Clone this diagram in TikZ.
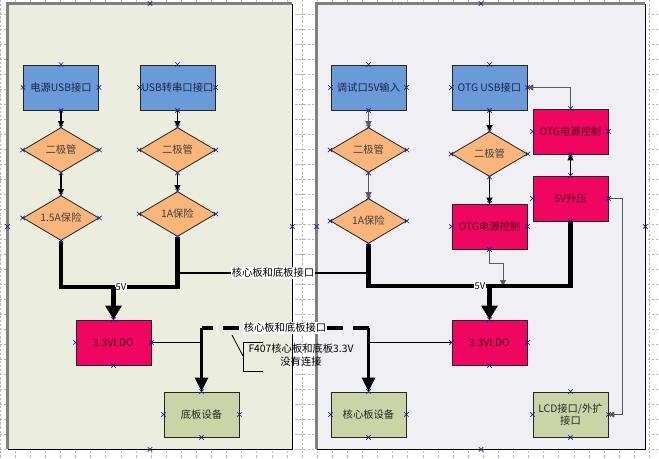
\documentclass[tikz,border=0pt]{standalone}
\usepackage{fontspec}
\setmainfont{Noto Sans CJK SC}
\usetikzlibrary{positioning,shapes.geometric,arrows.meta}
\definecolor{usbblue}{RGB}{106,155,216}
\definecolor{diodeorange}{RGB}{250,182,122}
\definecolor{ctrlpink}{RGB}{240,6,96}
\definecolor{devgreen}{RGB}{202,212,166}
\definecolor{leftbg}{RGB}{235,238,223}
\definecolor{rightbg}{RGB}{240,239,244}
\definecolor{pinktext}{RGB}{70,0,20}
\definecolor{bluetext}{RGB}{25,35,70}
\definecolor{wiregray}{RGB}{90,90,90}
\definecolor{gridgray}{RGB}{185,185,185}
\definecolor{markblue}{RGB}{30,30,150}

\begin{document}
\begin{tikzpicture}[
			x=0.03cm, y=-0.03cm,
			every node/.style={font=\fontsize{8.8}{10.5}\selectfont},
			>={Triangle[length=5pt,width=5pt]},
			panel/.style={draw=black, line width=0.6pt, minimum height=13.35cm},
			block/.style={draw=black!85, line width=0.7pt, minimum width=2.25cm, minimum height=1.35cm, inner sep=1pt},
			iface/.style={block, fill=usbblue, text=bluetext},
			ctrlbox/.style={block, fill=ctrlpink, text=pinktext},
			device/.style={block, fill=devgreen, text=black!85},
			gate/.style={diamond, aspect=1.7, draw=black!85, line width=0.7pt, fill=diodeorange, text=black!75, minimum width=2.28cm, minimum height=1.35cm, inner sep=0pt},
			wire/.style={line width=1pt},
			midwire/.style={line width=1.7pt},
			graywire/.style={draw=wiregray, line width=1.6pt},
			thinwire/.style={draw=wiregray, line width=0.8pt},
			bus/.style={line width=4pt},
			bigarrow/.style={line width=3.5pt, -{Triangle[length=12pt,width=13.6pt]}},
			droparrow/.style={line width=2.6pt, -{Triangle[length=12pt,width=11pt]}},
			tag/.style={fill=white, inner sep=1pt},
			cpmark/.style={draw=markblue, line width=0.5pt},
		]
		\useasboundingbox (0,0) rectangle (659,459);
		\fill[white] (0,0) rectangle (659,459);

		% Page grid
		\foreach \gx in {0,15.1,...,659}
			\draw[gridgray, line width=0.4pt, dash pattern=on 2pt off 1.5pt] (\gx,0) -- (\gx,459);
		\foreach \gy in {14,29,...,459}
			\draw[gridgray, line width=0.4pt, dash pattern=on 2pt off 1.5pt] (0,\gy) -- (659,\gy);

		% Panels
		\node[panel, fill=leftbg, minimum width=8.52cm] (leftpanel) at (150,226.5) {};
		\node[panel, fill=rightbg, minimum width=9.84cm] (rightpanel) at (481,226.5) {};
		\draw[gray, line width=2pt] (leftpanel.south west) -- (leftpanel.north west) -- (leftpanel.north east);
		\draw[gray, line width=2pt] (rightpanel.south west) -- (rightpanel.north west) -- (rightpanel.north east);

		% Base board nodes
		\node[iface] (pusb) at (61,87.5) {电源USB接口};
		\node[iface] (susb) at (177.5,87.5) {USB转串口接口};
		\node[gate] (pdiode) at (61,150) {二极管};
		\node[gate] (sdiode) at (177.5,150) {二极管};
		\node[gate] (pfuse) at (61,218) {1.5A保险};
		\node[gate] (sfuse) at (177.5,214) {1A保险};
		\node[ctrlbox] (lldo) at (113.5,342.5) {3.3VLDO};
		\node[device] (board) at (201.5,414.5) {底板设备};

		% Core board nodes
		\node[iface] (dbg) at (368.5,87.5) {调试口5V输入};
		\node[iface] (otg) at (489.5,87.5) {OTG USB接口};
		\node[gate] (ddiode) at (368.5,150) {二极管};
		\node[gate] (odiode) at (489.5,154) {二极管};
		\node[gate] (dfuse) at (368.5,221) {1A保险};
		\node[ctrlbox] (octrl) at (489.5,226.5) {OTG电源控制};
		\node[ctrlbox] (uctrl) at (570.5,131.5) {OTG电源控制};
		\node[ctrlbox] (boost) at (570.5,198.5) {5V升压};
		\node[ctrlbox] (rldo) at (489.5,342.5) {3.3VLDO};
		\node[device] (core) at (368.5,414.5) {核心板设备};
		\node[device, align=center] (lcd) at (570.5,414.5) {LCD接口/外扩\\接口};

		% Bends and taps
		\coordinate (lbusl) at (61,287);
		\coordinate (lbusr) at (177.5,287);
		\coordinate (ltap) at (113.5,287);
		\coordinate (ljoin) at (177.5,273);
		\coordinate (rjoin) at (368.5,273);
		\coordinate (rbusl) at (368.5,286);
		\coordinate (rbusr) at (570.5,286);
		\coordinate (rtap) at (489.5,286);
		\coordinate (rfeed) at (503,286);
		\coordinate (ltop) at (201.5,328);
		\coordinate (rtop) at (368.5,328);
		\coordinate (ldrop) at (201.5,342.5);
		\coordinate (rdrop) at (368.5,342.5);

		% Inputs down to the fuses
		\draw[->, wire] (pusb) -- (pdiode);
		\draw[->, wire] (pdiode) -- (pfuse);
		\draw[->, wire] (susb) -- (sdiode);
		\draw[->, wire] (sdiode) -- (sfuse);
		\draw[->, graywire] (dbg) -- (ddiode);
		\draw[->, graywire] (ddiode) -- (dfuse);
		\draw[->, wire] (otg) -- (odiode);
		\draw[->, wire] (odiode) -- (octrl);

		% OTG supply
		\draw[->, wire] (boost) -- (uctrl);
		\draw[->, graywire] (uctrl.north) |- (otg.east);
		\draw[->, thinwire] (boost.east) -- ++(14,0) |- (lcd.east);
		\draw[->, thinwire] (octrl.south) -- ++(0,14) -| (rfeed);

		% 5V buses
		\draw[bus] (pfuse.south) -- (lbusl) -- (lbusr) -- (sfuse.south);
		\draw[bus] (dfuse.south) -- (rbusl) -- (rbusr) -- (boost.south);
		\draw[midwire] (ljoin) -- node[tag] {核心板和底板接口} (rjoin);
		\node[tag, font=\fontsize{8}{9}\selectfont] (lv) at (121,287) {5V};
		\node[tag, font=\fontsize{8}{9}\selectfont] (rv) at (480,286) {5V};
		\draw[bigarrow] (ltap) -- (lldo);
		\draw[bigarrow] (rtap) -- (rldo);

		% 3.3V outputs
		\draw[midwire] (lldo.east) -- (ldrop);
		\draw[midwire] (rldo.west) -- (rdrop);
		\draw[droparrow] (ltop) -- (board);
		\draw[droparrow] (rtop) -- (core);
		\draw[line width=2.6pt, dash pattern=on 13.6pt off 8.5pt] (rtop) -- node[tag] {核心板和底板接口} (ltop);

		% Callout
		\node[align=center, inner sep=0pt] (note) at (301,355) {F407核心板和底板3.3V\\没有连接};
		\coordinate (calltip) at (232,335);
		\draw[line width=0.7pt] (calltip) -- (243,356);
		\draw[line width=0.7pt] (263,342) -- (243,342) -- (243,371) -- (263,371);

		% Connection points
		\foreach \n in {pusb,susb,pdiode,sdiode,pfuse,sfuse,lldo,board,dbg,otg,ddiode,odiode,dfuse,octrl,uctrl,boost,rldo,core,lcd,leftpanel,rightpanel}
			\foreach \a in {north,south,east,west}
				\draw[cpmark] (\n.\a) +(-2.2,-2.2) -- +(2.2,2.2) +(-2.2,2.2) -- +(2.2,-2.2);
	\end{tikzpicture}
\end{document}
